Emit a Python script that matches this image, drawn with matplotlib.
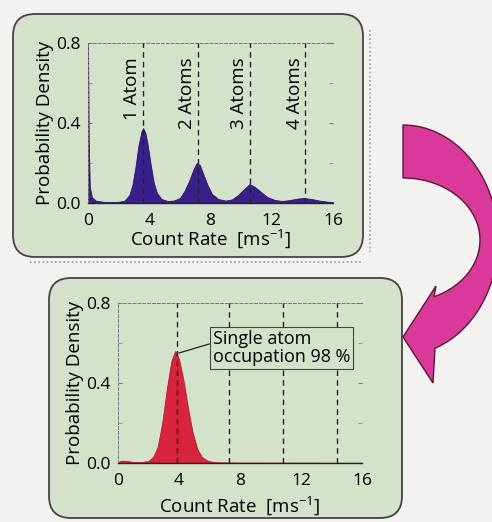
import matplotlib
matplotlib.use("Agg")
import numpy as np
import matplotlib.pyplot as plt
from matplotlib.patches import FancyBboxPatch, Polygon
from matplotlib.lines import Line2D
from matplotlib.transforms import IdentityTransform

plt.rcParams["font.family"] = ["Open Sans", "DejaVu Sans"]

W, H = 492, 522

# top panel: count-rate histogram with several atoms
top_x = [0.0, 0.05, 0.12, 0.25, 0.5, 1.0, 1.5, 2.0, 2.4, 2.7, 2.9, 3.1, 3.3, 3.5,
         3.6, 3.75, 3.9, 4.1, 4.3, 4.5, 4.8, 5.2, 5.6, 6.0, 6.3, 6.6, 6.9, 7.1,
         7.3, 7.5, 7.8, 8.1, 8.5, 9.0, 9.4, 9.8, 10.2, 10.55, 10.9, 11.3, 11.7,
         12.2, 12.7, 13.2, 13.7, 14.1, 14.6, 15.1, 15.6, 16.0]
top_y = [0.80, 0.30, 0.08, 0.03, 0.012, 0.006, 0.005, 0.006, 0.012, 0.04, 0.09,
         0.18, 0.29, 0.36, 0.375, 0.35, 0.29, 0.19, 0.10, 0.05, 0.02, 0.01,
         0.012, 0.025, 0.06, 0.11, 0.17, 0.20, 0.19, 0.15, 0.09, 0.045, 0.02,
         0.012, 0.018, 0.04, 0.07, 0.095, 0.08, 0.055, 0.03, 0.015, 0.01,
         0.015, 0.022, 0.025, 0.02, 0.012, 0.007, 0.004]
top_lines = [3.6, 7.2, 10.6, 14.2]
top_labels = ["1 Atom", "2 Atoms", "3 Atoms", "4 Atoms"]

# bottom panel: after selection, single atom
bot_x = [0.0, 0.1, 0.3, 0.6, 1.0, 1.5, 2.0, 2.3, 2.6, 2.9, 3.2, 3.5, 3.75, 4.0,
         4.3, 4.6, 4.9, 5.2, 5.5, 5.9, 6.4, 7.0, 8.0, 16.0]
bot_y = [0.0, 0.008, 0.012, 0.01, 0.005, 0.004, 0.01, 0.03, 0.08, 0.20, 0.37,
         0.51, 0.56, 0.52, 0.41, 0.27, 0.15, 0.07, 0.03, 0.01, 0.004, 0.003,
         0.002, 0.001]
bot_lines = [3.85, 7.3, 10.8, 14.35]
bot_note = "Single atom\noccupation 98 %"

xticks = [0, 4, 8, 12, 16]
yticks = [0.0, 0.4, 0.8]

PANEL = "#d4e2cb"
EDGE = "#4a4242"
FS = 13

fig = plt.figure(figsize=(W / 100, H / 100), dpi=100)
fig.patch.set_facecolor("#f4f2f1")


def px_box(x0, y0, x1, y1):
    # image pixels (top origin) -> display coords
    return FancyBboxPatch((x0, H - y1), x1 - x0, y1 - y0,
                          boxstyle="round,pad=0,rounding_size=22",
                          transform=IdentityTransform(), facecolor=PANEL,
                          edgecolor=EDGE, linewidth=1.3, zorder=-2)


# shadows of the top panel
for xs, ys in [([30, 362], [262, 262]), ([370, 370], [30, 252])]:
    fig.add_artist(Line2D(xs, [H - v for v in ys], transform=IdentityTransform(),
                          color="#9a9a9a", lw=1.2, ls=(0, (1, 1.5)), zorder=-3))
fig.add_artist(px_box(13, 14, 363, 257))
fig.add_artist(px_box(49, 278, 402, 518))


def style_axes(ax, xlabelpad):
    ax.set_facecolor("none")
    ax.set_xlim(0, 16)
    ax.set_ylim(0, 0.8)
    ax.set_xticks(xticks)
    ax.set_yticks(yticks)
    ax.set_yticklabels([f"{v:.1f}" for v in yticks])
    ax.set_yticks([0.2, 0.6], minor=True)
    ax.tick_params(labelsize=12.5, length=3, color="#777777", direction="in",
                   right=True, pad=5)
    ax.tick_params(which="minor", length=3, color="#888888", direction="in", right=True)
    ax.tick_params(axis="x", length=0, pad=7)
    for s in ["top", "left"]:
        ax.spines[s].set_color("#777777")
        ax.spines[s].set_linewidth(0.7)
        ax.spines[s].set_linestyle((0, (3, 2)))
    ax.spines["right"].set_visible(False)
    ax.spines["bottom"].set_color("#222222")
    ax.spines["bottom"].set_linewidth(1.0)
    ax.set_xlabel("Count Rate  [ms$^{\\mathregular{-1}}$]", fontsize=FS + 0.5,
                  labelpad=xlabelpad)
    ax.set_ylabel("Probability Density", fontsize=FS + 0.5, labelpad=2)


ax1 = fig.add_axes([88 / W, 1 - 203 / H, 245 / W, 160 / H])
style_axes(ax1, -1)
ax1.fill_between(top_x, top_y, color="#3a1f8c", lw=0.6, edgecolor="#2a1670", zorder=2)
for xv, lab in zip(top_lines, top_labels):
    ax1.plot([xv, xv], [0, 0.8], color="#222222", lw=1.0, ls=(0, (4, 3)), zorder=3)
    ax1.text(xv - 0.12, 0.73, lab, rotation=90, ha="right", va="top", fontsize=FS + 0.5)

ax2 = fig.add_axes([118 / W, 1 - 463 / H, 244 / W, 160 / H])
style_axes(ax2, 4)
ax2.fill_between(bot_x, bot_y, color="#d8253d", lw=0.6, edgecolor="#b01a30", zorder=2)
for xv in bot_lines:
    ax2.plot([xv, xv], [0, 0.8], color="#222222", lw=1.0, ls=(0, (4, 3)), zorder=3)
ax2.annotate(bot_note, xy=(4.0, 0.55), xytext=(6.2, 0.575), ha="left", va="center",
             fontsize=FS, linespacing=1.0, zorder=5,
             bbox=dict(boxstyle="square,pad=0.15", facecolor=PANEL,
                       edgecolor="#444444", lw=0.8),
             arrowprops=dict(arrowstyle="-", color="#222222", lw=0.9,
                             relpos=(0, 0.64), shrinkA=0, shrinkB=0))

# curved magenta arrow between the panels (outline in image pixels)
cx, cy = 403, 240
phi_out = np.linspace(np.pi / 2, -np.arccos(32 / 95), 60)
phi_in = np.linspace(-np.arccos(31 / 77), np.pi / 2, 60)
outer = np.column_stack([cx + 95 * np.cos(phi_out), cy - 115 * np.sin(phi_out)])
inner = np.column_stack([cx + 77 * np.cos(phi_in), cy - 62 * np.sin(phi_in)])
head = np.array([[433, 383], [403, 337], [436, 286]])
outline = np.vstack([outer, head, inner])
outline[:, 1] = H - outline[:, 1]
fig.add_artist(Polygon(outline, closed=True, transform=IdentityTransform(),
                       facecolor="#d8399a", edgecolor="#5a1838", lw=1.0, zorder=4))

fig.savefig("out.png", dpi=100, facecolor=fig.get_facecolor())
